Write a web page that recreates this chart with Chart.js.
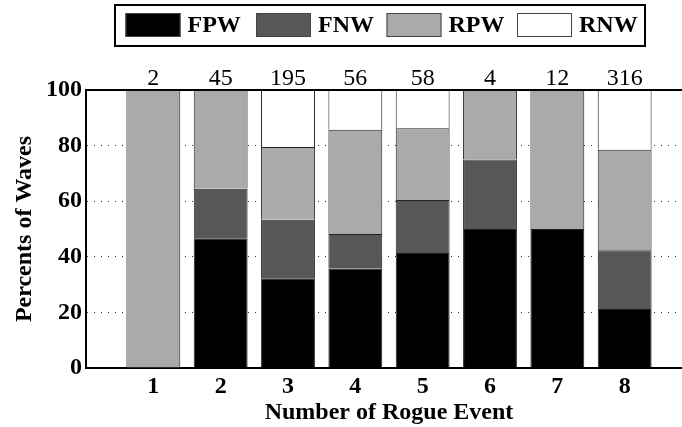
<!DOCTYPE html>
<html>
<head>
<meta charset="utf-8">
<script src="https://cdn.jsdelivr.net/npm/chart.js@4/dist/chart.umd.min.js"></script>
<style>
  html, body { margin: 0; padding: 0; overflow: hidden; background: #fff; }
  canvas { display: block; }
</style>
</head>
<body>
<canvas id="rogueChart" width="696" height="427"></canvas>
<script>
const categories = [1, 2, 3, 4, 5, 6, 7, 8];
const counts = [2, 45, 195, 56, 58, 4, 12, 316];
const fpw = [0, 46.7, 32.3, 35.7, 41.4, 50, 50, 21.2];
const fnw = [0, 17.8, 21.0, 12.5, 19.0, 25, 0, 21.2];
const rpw = [100, 35.5, 26.2, 37.5, 25.8, 25, 50, 36.1];
const rnw = [0, 0, 20.5, 14.3, 13.8, 0, 0, 21.5];
const seriesNames = ["FPW", "FNW", "RPW", "RNW"];
const seriesColors = ["#000000", "#575757", "#aaaaaa", "#ffffff"];

const serif = '"Liberation Serif", "Times New Roman", serif';

function points(values) {
  return categories.map((c, i) => ({ x: c, y: values[i] }));
}

// legend box drawn by hand, plus the top frame line and the counts over the bars
const extras = {
  id: "extras",
  afterDraw(chart) {
    const ctx = chart.ctx;
    const area = chart.chartArea;
    const xScale = chart.scales.x;

    ctx.save();
    ctx.strokeStyle = "#000";
    ctx.lineWidth = 2;
    ctx.beginPath();
    ctx.moveTo(area.left, area.top);
    ctx.lineTo(area.right, area.top);
    ctx.stroke();

    ctx.font = "24px " + serif;
    ctx.fillStyle = "#000";
    ctx.textAlign = "center";
    ctx.textBaseline = "alphabetic";
    categories.forEach((c, i) => {
      ctx.fillText(String(counts[i]), xScale.getPixelForValue(c), area.top - 5);
    });

    // legend
    ctx.lineWidth = 2;
    ctx.strokeRect(115, 5, 530, 41);
    ctx.font = "bold 24px " + serif;
    ctx.textAlign = "left";
    ctx.textBaseline = "middle";
    seriesNames.forEach((name, i) => {
      const x = 125.5 + i * 130.5;
      ctx.fillStyle = seriesColors[i];
      ctx.fillRect(x, 13, 55, 24);
      ctx.lineWidth = 1;
      ctx.strokeStyle = "#444";
      ctx.strokeRect(x + 0.5, 13.5, 54, 23);
      ctx.fillStyle = "#000";
      ctx.fillText(name, x + 62, 26);
    });
    ctx.restore();
  }
};

const data = {
  datasets: seriesNames.map((name, i) => ({
    label: name,
    data: points([fpw, fnw, rpw, rnw][i]),
    backgroundColor: seriesColors[i],
    borderColor: "#222",
    borderWidth: 1,
    barPercentage: 0.8,
    categoryPercentage: 1.0
  }))
};

const config = {
  type: "bar",
  data: data,
  options: {
    responsive: false,
    animation: false,
    layout: { padding: { top: 90, right: 0, left: 0, bottom: 0 } },
    plugins: {
      legend: { display: false },
      tooltip: { enabled: false }
    },
    scales: {
      x: {
        type: "linear",
        stacked: true,
        offset: false,
        min: 0,
        max: 9,
        afterFit: (scale) => { scale.height = 59; },
        ticks: {
          stepSize: 1,
          padding: 4,
          color: "#000",
          font: { family: serif, size: 24, weight: "bold" },
          callback: (v) => (categories.includes(v) ? String(v) : "")
        },
        grid: { display: false, drawTicks: false },
        border: { display: true, color: "#000", width: 2 },
        title: {
          display: true,
          text: "Number of Rogue Event",
          color: "#000",
          font: { family: serif, size: 24, weight: "bold" },
          padding: { top: 0, bottom: 0 }
        }
      },
      y: {
        stacked: true,
        min: 0,
        max: 100,
        afterFit: (scale) => { scale.width = 86; },
        ticks: {
          stepSize: 20,
          padding: 4,
          color: "#000",
          font: { family: serif, size: 24, weight: "bold" }
        },
        grid: {
          drawTicks: false,
          lineWidth: 1,
          color: (ctx) => (ctx.tick && ctx.tick.value > 0 && ctx.tick.value < 100 ? "#333" : "rgba(0,0,0,0)")
        },
        border: { display: true, color: "#000", width: 2, dash: [1, 6] },
        title: {
          display: true,
          text: "Percents of Waves",
          color: "#000",
          font: { family: serif, size: 24, weight: "bold" },
          padding: { top: 10, bottom: 0 }
        }
      }
    }
  },
  plugins: [extras]
};

const myChart = new Chart(document.getElementById("rogueChart"), config);
</script>
</body>
</html>
